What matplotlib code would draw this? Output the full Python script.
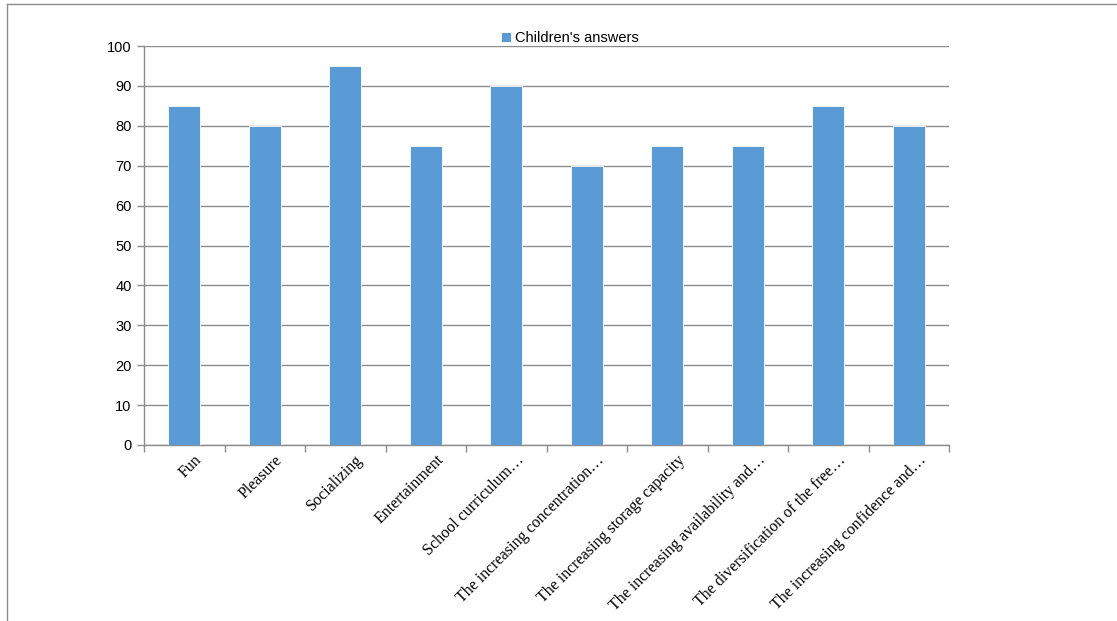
import matplotlib
matplotlib.use('Agg')
import matplotlib.pyplot as plt
from matplotlib.lines import Line2D
import numpy as np

# Reasons and the share of children giving each one
categories = [
    "Fun",
    "Pleasure",
    "Socializing",
    "Entertainment",
    "School curriculum\u2026",
    "The increasing concentration\u2026",
    "The increasing storage capacity",
    "The increasing availability and\u2026",
    "The diversification of the free\u2026",
    "The increasing confidence and\u2026",
]
answers = [85, 80, 95, 75, 90, 70, 75, 75, 85, 80]
series_name = "Children's answers"
y_ticks = list(range(0, 101, 10))

bar_color = "#5B9BD5"
grid_color = "#8c8c8c"

fig = plt.figure(figsize=(11.17, 6.21), dpi=100)
W, H = 1117, 621
ax = fig.add_axes([144 / W, 1 - 445 / H, (949 - 144) / W, (445 - 46) / H])

x = np.arange(len(categories))
ax.bar(x, answers, width=0.4, color=bar_color, label=series_name, zorder=3,
       edgecolor="white", linewidth=0.6)

ax.set_xlim(-0.5, len(categories) - 0.5)
ax.set_ylim(0, 100)
ax.set_yticks(y_ticks)
ax.set_yticklabels([str(v) for v in y_ticks], family="Liberation Sans", fontsize=10.5)
ax.yaxis.grid(True, color=grid_color, linewidth=1.0, zorder=0)
ax.set_axisbelow(True)

# category boundaries carry the x tick marks; labels sit at bar centres
ax.set_xticks(np.arange(-0.5, len(categories)), minor=False)
ax.set_xticklabels([])
ax.tick_params(axis="x", length=5, color=grid_color, width=1)
ax.tick_params(axis="y", length=5, color=grid_color, width=1, pad=4)
for i, label in enumerate(categories):
    ax.annotate(label, xy=(i, 0), xycoords=("data", "axes fraction"),
                xytext=(7, -5), textcoords="offset points",
                rotation=45, ha="right", va="top", rotation_mode="anchor",
                family="Liberation Serif", fontsize=11.5)

for side in ["top", "right"]:
    ax.spines[side].set_visible(False)
for side in ["left", "bottom"]:
    ax.spines[side].set_color(grid_color)
    ax.spines[side].set_linewidth(1)

ax.legend(loc="center", bbox_to_anchor=(0.529, 1 + 8 / 399), frameon=False,
          handlelength=0.7, handleheight=0.7, handletextpad=0.3,
          prop={"family": "Liberation Sans", "size": 10.5}, borderpad=0)

# chart area border (top and left edges)
fig.add_artist(Line2D([7 / W, 7 / W], [0, 1 - 4 / H], color="#8c8c8c", linewidth=1))
fig.add_artist(Line2D([7 / W, 1], [1 - 4 / H, 1 - 4 / H], color="#8c8c8c", linewidth=1))

fig.savefig("out.png", dpi=100)
